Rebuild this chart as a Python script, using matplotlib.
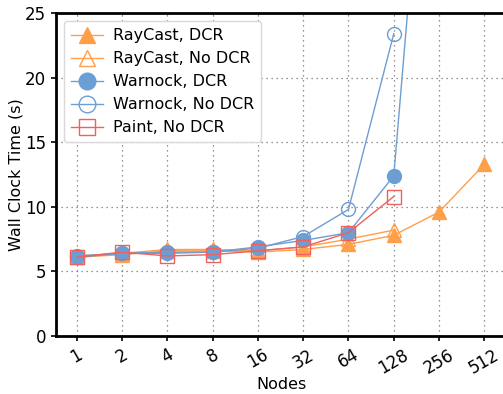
import matplotlib
matplotlib.use("Agg")
import matplotlib.pyplot as plt
import numpy as np

nodes = ["1", "2", "4", "8", "16", "32", "64", "128", "256", "512"]

raycast_dcr = [6.1, 6.3, 6.6, 6.6, 6.5, 6.7, 7.1, 7.8, 9.6, 13.3]
raycast_nodcr = [6.2, 6.4, 6.7, 6.7, 6.6, 6.9, 7.5, 8.2]
warnock_dcr = [6.2, 6.4, 6.5, 6.5, 6.9, 7.4, 8.0, 12.4, 54.0]
warnock_nodcr = [6.1, 6.4, 6.4, 6.5, 6.8, 7.7, 9.8, 23.4]
paint_nodcr = [6.1, 6.5, 6.2, 6.3, 6.6, 6.9, 8.0, 10.8]

orange = "#ff9f4a"
blue = "#6d9ed3"
red = "#f0605d"

fig = plt.figure(figsize=(5.03, 3.94), dpi=100)
ax = fig.add_axes([0.111, 0.147, 0.897, 0.820])

x = np.arange(len(nodes))
ms = 10
ax.plot(x[:len(raycast_dcr)], raycast_dcr, color=orange, marker="^", ms=ms, lw=1,
        label="RayCast, DCR")
ax.plot(x[:len(raycast_nodcr)], raycast_nodcr, color=orange, marker="^", ms=ms, lw=1,
        mfc="none", label="RayCast, No DCR")
ax.plot(x[:len(warnock_dcr)], warnock_dcr, color=blue, marker="o", ms=ms, lw=1,
        label="Warnock, DCR")
ax.plot(x[:len(warnock_nodcr)], warnock_nodcr, color=blue, marker="o", ms=ms, lw=1,
        mfc="none", label="Warnock, No DCR")
ax.plot(x[:len(paint_nodcr)], paint_nodcr, color=red, marker="s", ms=ms, lw=1,
        mfc="none", label="Paint, No DCR")

ax.set_xlim(-0.46, 9.5)
ax.set_ylim(0, 25)
ax.set_yticks([0, 5, 10, 15, 20, 25])
ax.set_xticks(x)
ax.set_xticklabels(nodes, rotation=30)
ax.tick_params(labelsize=12, length=3.5, width=1.2)
ax.set_xlabel("Nodes", fontsize=11.5, labelpad=0)
ax.set_ylabel("Wall Clock Time (s)", fontsize=11.5, labelpad=1)
ax.grid(True, linestyle=(0, (1, 3)), color="0.45", linewidth=0.9)
for s in ax.spines.values():
    s.set_linewidth(2)

ax.legend(loc="upper left", fontsize=11.5, framealpha=1, edgecolor="0.85",
          borderpad=0.45, labelspacing=0.5, handletextpad=0.6, markerscale=1.2)

fig.savefig("out.png", dpi=100)
